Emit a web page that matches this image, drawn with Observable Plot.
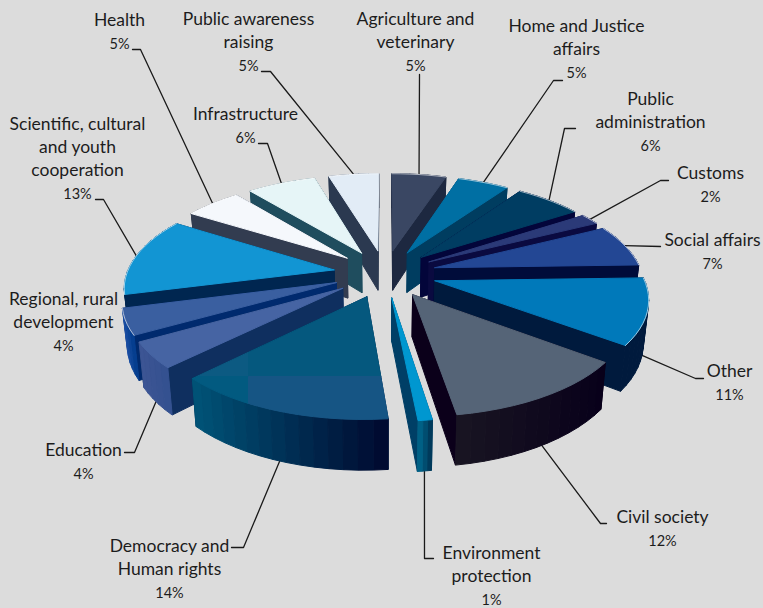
<!DOCTYPE html>
<html>
<head>
<meta charset="utf-8">
<style>html,body{margin:0;padding:0;background:#dcdcdc}svg{display:block}</style>
<script src="https://cdn.jsdelivr.net/npm/d3@7"></script>
<script src="https://cdn.jsdelivr.net/npm/@observablehq/plot@0.6"></script>
</head>
<body>
<div id="chart"></div>
<script>
// Data
const categories = ["Agriculture and veterinary","Home and Justice affairs","Public administration","Customs","Social affairs","Other","Civil society","Environment protection","Democracy and Human rights","Education","Regional, rural development","Scientific, cultural and youth cooperation","Health","Infrastructure","Public awareness raising"];
const shares = [5.0,4.7,6.1,1.8,6.9,10.7,12.3,0.9,14.1,4.2,4.2,12.9,5.2,6.3,4.6];
const percentLabels = ["5%","5%","6%","2%","7%","11%","12%","1%","14%","4%","4%","13%","5%","6%","5%"];
const labelLines = [["Agriculture and","veterinary"],["Home and Justice","affairs"],["Public","administration"],["Customs"],["Social affairs"],["Other"],["Civil society"],["Environment","protection"],["Democracy and","Human rights"],["Education"],["Regional, rural","development"],["Scientific, cultural","and youth","cooperation"],["Health"],["Infrastructure"],["Public awareness","raising"]];
// Colours
const topColors = ["#3a4763","#006fa3","#003d62","#2b3a78","#234794","#0079ba","#556477","#0097d0","#07597f","#4664a3","#3a5fa0","#1295d3","#f5f8fc","#e6f5f7","#e2ecf6"];
const sideColors = ["#1d2840","#003d60","#03053a","#0a0a40","#000c3a","#001a3d","#0b001a","#003f66","#002a50","#0f2f5f","#002a6e","#002650","#323c50","#1f4d5e","#2b3950"];
const arcLeftColors = ["#1d2840","#003d60","#03053a","#0a0a40","#000c3a","#001a3d","#191522","#006a90","#005478","#3d5594","#2052a8","#002650","#323c50","#1f4d5e","#2b3950"];
const arcRightColors = ["#1d2840","#003d60","#03053a","#0a0a40","#000c3a","#001a3d","#08001a","#003050","#00082e","#33508f","#003a8a","#002650","#323c50","#1f4d5e","#2b3950"];
const democracyFacetColors = ["#0c5a82","#05587e","#025a80","#165584"];
// Label layout: text centre, first line centre, leader stub and elbow
const labelPos = [[415,19],[576,26],[650,99],[710,173],[712,240],[729,371],[662,517],[491,553],[169,546],[83,450],[63,299],[77,124],[119,20],[245,114],[248,19]];
const leaderElbows = [[[419,74]],[[562,80],[553,80]],[[575,128],[564,128]],[[668,180],[660,180]],[[660,246]],[[703,378],[695,378]],[[606,523],[600,523]],[[433,558],[424,558]],[[231,547],[243,547]],[[124,452],[134,452]],null,[[95,199],[103,199]],[[132,49],[140,49]],[[258,143],[267,143]],[[261,71],[270,71]]];
const leaderBottom = [0,0,0,0,0,1,1,1,1,1,0,0,0,0,0];
const democracySplit = [248,376];

// Perspective model of the exploded pie
const total = d3.sum(shares), cx = 384.5, y0 = 273, kx = 259, ky = 119.4, persp = 0.194, depth = 41, explode = 0.2, radius = 0.8;
const project = (X, Z, low) => {
  const den = 1 - persp * Z;
  return {x: cx + kx * X / den * (low ? 0.98 : 1), y: y0 + ky * Z / den + (low ? depth / den : 0)};
};
const clipPoly = (pts, key, value, keepLess) => {
  const inside = p => keepLess ? p[key] <= value : p[key] >= value, out = [];
  pts.forEach((p, k) => {
    const q = pts[(k + 1) % pts.length];
    if (inside(p)) out.push(p);
    if (inside(p) !== inside(q)) {
      const t = (value - p[key]) / (q[key] - p[key]);
      out.push({x: p.x + (q.x - p.x) * t, y: p.y + (q.y - p.y) * t});
    }
  });
  return out;
};
const lerp = d3.interpolateRgb;
let acc = 0;
const wedges = shares.map((v, i) => {
  const a0 = acc / total * 2 * Math.PI; acc += v;
  const a1 = acc / total * 2 * Math.PI, mid = (a0 + a1) / 2;
  const ox = explode * Math.sin(mid), oz = -explode * Math.cos(mid);
  const pt = (a, low) => project(ox + radius * Math.sin(a), oz - radius * Math.cos(a), low);
  return {i, a0, a1, mid, ox, oz, pt};
});
const rows = []; let id = 0;
const addPoly = (pts, color) => {id++; [...pts, pts[0]].forEach(p => rows.push({x: p.x, y: p.y, id, color}));};
const arcRows = [];
[...wedges].sort((a, b) => Math.cos(b.mid) - Math.cos(a.mid)).forEach(w => {
  const n = Math.max(3, Math.ceil((w.a1 - w.a0) / 0.06));
  const angs = d3.range(n + 1).map(k => w.a0 + (w.a1 - w.a0) * k / n);
  const tip = project(w.ox, w.oz), tipLow = project(w.ox, w.oz, true);
  const faces = [];
  const zOf = a => w.oz - radius * Math.cos(a);
  faces.push({z: (w.oz + zOf(w.a0)) / 2, pts: [tip, w.pt(w.a0), w.pt(w.a0, true), tipLow], c: sideColors[w.i]});
  faces.push({z: (w.oz + zOf(w.a1)) / 2, pts: [tip, w.pt(w.a1), w.pt(w.a1, true), tipLow], c: sideColors[w.i]});
  for (let k = 0; k < n; k++) {
    const p = [w.pt(angs[k]), w.pt(angs[k + 1]), w.pt(angs[k + 1], true), w.pt(angs[k], true)];
    const xm = (p[0].x + p[1].x) / 2;
    const ends = [w.pt(w.a0).x, w.pt(w.a1).x];
    const t = (xm - d3.min(ends)) / Math.max(1, d3.max(ends) - d3.min(ends));
    faces.push({z: zOf((angs[k] + angs[k + 1]) / 2), pts: p, c: lerp(arcLeftColors[w.i], arcRightColors[w.i])(Math.min(1, Math.max(0, t)))});
  }
  faces.sort((a, b) => a.z - b.z).forEach(f => addPoly(f.pts, f.c));
  const topPoly = [tip, ...angs.map(a => w.pt(a))];
  if (categories[w.i].startsWith("Democracy")) {
    [[true,true],[false,true],[true,false],[false,false]].forEach(([left, upper], q) => {
      const part = clipPoly(clipPoly(topPoly, "x", democracySplit[0], left), "y", democracySplit[1], upper);
      if (part.length) addPoly(part, democracyFacetColors[q]);
    });
  } else {
    addPoly(topPoly, topColors[w.i]);
  }
  if (Math.cos(w.mid) > -0.4) angs.forEach(a => arcRows.push({...w.pt(a), id: id}));
  id++;
});
const leaderRows = [];
wedges.forEach(w => {
  if (!leaderElbows[w.i]) return;
  leaderElbows[w.i].forEach(p => leaderRows.push({x: p[0], y: p[1], i: w.i}));
  leaderRows.push({...w.pt(w.mid, !!leaderBottom[w.i]), i: w.i});
});
const nameLabels = wedges.map(w => ({x: labelPos[w.i][0], y: labelPos[w.i][1], text: labelLines[w.i].join("\n")}));
const pctLabels = wedges.map(w => ({x: labelPos[w.i][0], y: labelPos[w.i][1] + 23 * labelLines[w.i].length, text: percentLabels[w.i]}));

const chart = Plot.plot({
  width: 763, height: 608, margin: 0,
  x: {domain: [0, 763], axis: null},
  y: {domain: [608, 0], axis: null},
  color: {type: "identity"},
  style: {background: "#dcdcdc", fontFamily: "Lato, 'Open Sans', sans-serif"},
  marks: [
    Plot.line(leaderRows, {x: "x", y: "y", z: "i", stroke: "#1a1a1a", strokeWidth: 1.3, curve: "linear"}),
    Plot.line(rows, {x: "x", y: "y", z: "id", fill: "color", stroke: "color", strokeWidth: 1, curve: "linear"}),
    Plot.line(arcRows, {x: "x", y: "y", z: "id", stroke: "#ffffff", strokeWidth: 0.8, strokeOpacity: 0.75, curve: "linear"}),
    Plot.text(nameLabels, {x: "x", y: "y", text: "text", fontSize: 17.5, lineHeight: 1.314, lineAnchor: "top", dy: -11, fill: "#1c1c1c", textAnchor: "middle"}),
    Plot.text(pctLabels, {x: "x", y: "y", text: "text", fontSize: 14.5, lineAnchor: "middle", dy: 1, fill: "#1c1c1c", textAnchor: "middle"})
  ]
});
document.getElementById("chart").appendChild(chart);
</script>
</body>
</html>
